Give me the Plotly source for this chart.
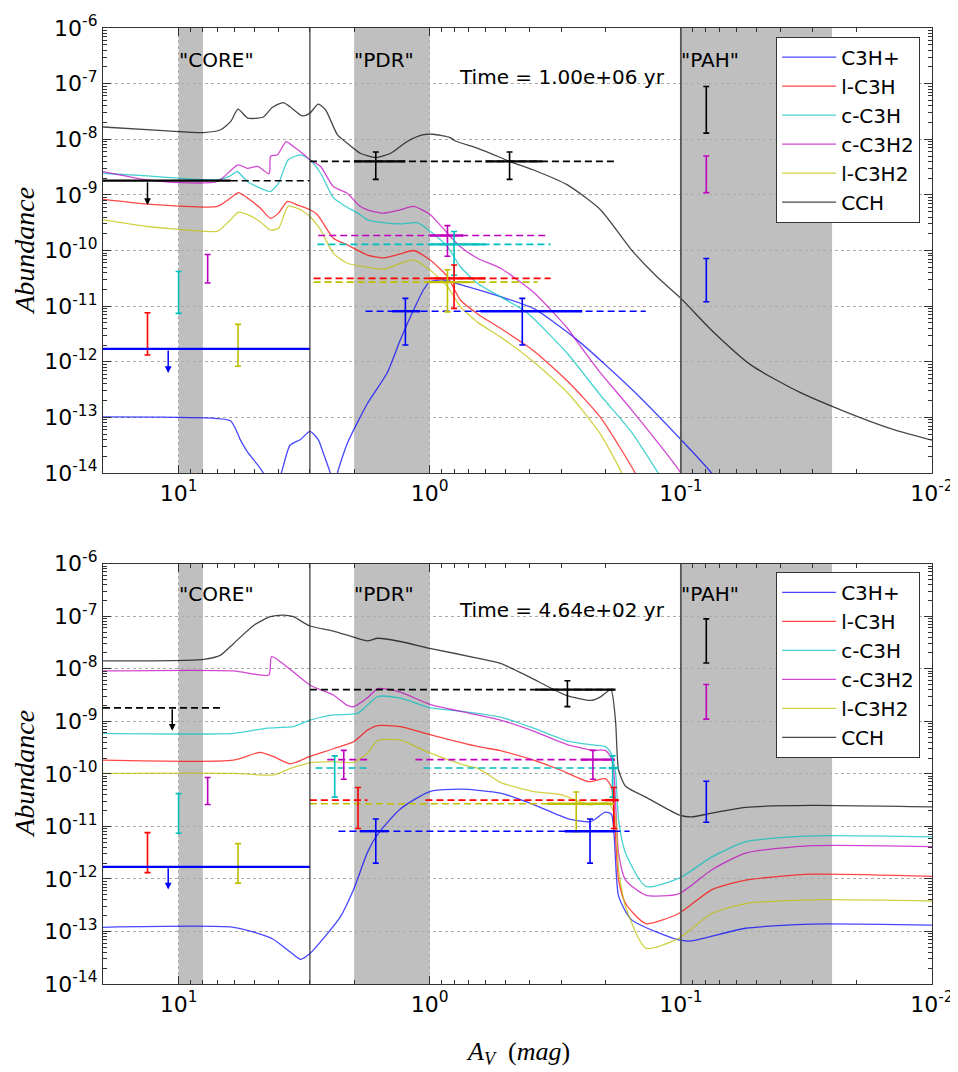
import numpy as np
import plotly.graph_objects as go

# ------------------------------------------------------------------
# Model abundances, upper panel (Time = 1.00e+06 yr)
# ------------------------------------------------------------------
t1_C3Hp_av = [20, 10, 6.22, 5.67, 5.32, 4.6, 4.3, 3.9, 3.6, 3.27, 3.0, 2.78, 2.65, 2.49, 2.4, 2.33,
              2.13, 1.77, 1.48, 1.31, 1.16, 1.06, 1.0, 0.88, 0.708, 0.523, 0.386, 0.258, 0.158, 0.1,
              0.0755, 0.07]
t1_C3Hp = [1.02e-13, 1.0e-13, 8.7e-14, 3.9e-14, 2.4e-14, 1.0e-14, 3.2e-15, 1.0e-14, 3.16e-14, 4.0e-14,
           5.6e-14, 4.0e-14, 2.24e-14, 1.0e-14, 4.0e-15, 1.0e-14, 3.4e-14, 1.78e-13, 6.2e-13, 2.45e-12,
           8.5e-12, 1.95e-11, 2.75e-11, 2.95e-11, 2.24e-11, 1.48e-11, 9.1e-12, 2.45e-12, 3.3e-13, 4.0e-14,
           1.0e-14, 6.3e-15]

t1_lC3H_av = [20, 13.3, 10, 7.0, 6.22, 5.78, 5.3, 4.73, 4.31, 4.0, 3.69, 3.37, 3.0, 2.8, 2.42, 2.13,
              1.77, 1.53, 1.31, 1.16, 1.0, 0.85, 0.755, 0.64, 0.523, 0.386, 0.283, 0.209, 0.152, 0.145]
t1_lC3H = [8.3e-10, 6.8e-10, 6.3e-10, 6.2e-10, 8.7e-10, 1.1e-9, 8.7e-10, 5.8e-10, 3.8e-10, 4.7e-10,
           7.6e-10, 6.6e-10, 5.4e-10, 4.4e-10, 1.66e-10, 1.26e-10, 8.3e-11, 7.4e-11, 8.7e-11, 1.0e-10,
           6.8e-11, 3.4e-11, 1.29e-11, 7.1e-12, 4.0e-12, 1.58e-12, 4.5e-13, 1.0e-13, 1.0e-14, 6.3e-15]

t1_cC3H_av = [20, 13.3, 10, 7.0, 6.22, 5.85, 5.32, 4.73, 4.31, 4.0, 3.66, 3.27, 3.0, 2.72, 2.42, 2.21,
              1.89, 1.77, 1.53, 1.31, 1.12, 1.0, 0.85, 0.755, 0.64, 0.523, 0.424, 0.386, 0.283, 0.209,
              0.158, 0.123, 0.115]
t1_cC3H = [2.45e-9, 2.19e-9, 2.0e-9, 1.86e-9, 2.19e-9, 2.63e-9, 1.74e-9, 1.32e-9, 1.15e-9, 1.62e-9,
           4.27e-9, 5.25e-9, 4.27e-9, 2.45e-9, 8.9e-10, 6.6e-10, 4.4e-10, 3.55e-10, 3.16e-10, 3.0e-10,
           3.16e-10, 2.24e-10, 1.17e-10, 5.1e-11, 2.5e-11, 1.48e-11, 8.5e-12, 6.0e-12, 1.41e-12, 2.5e-13,
           5.6e-14, 1.0e-14, 6.3e-15]

t1_cC3H2_av = [20, 13.3, 10, 7.0, 5.8, 5.32, 4.85, 4.36, 4.30, 4.04, 3.73, 3.49, 3.16, 3.0, 2.72, 2.42,
               2.13, 1.9, 1.77, 1.53, 1.31, 1.16, 1.0, 0.85, 0.755, 0.64, 0.523, 0.386, 0.283, 0.256,
               0.209, 0.158, 0.1, 0.095]
t1_cC3H2 = [2.63e-9, 1.86e-9, 1.66e-9, 1.74e-9, 3.47e-9, 3.0e-9, 3.24e-9, 2.4e-9, 5.0e-9, 5.25e-9,
            9.1e-9, 7.4e-9, 5.25e-9, 4.27e-9, 3.24e-9, 1.41e-9, 1.07e-9, 6.3e-10, 5.4e-10, 4.7e-10,
            5.4e-10, 6.2e-10, 4.5e-10, 2.04e-10, 1.17e-10, 7.1e-11, 4.8e-11, 1.78e-11, 4.0e-12, 2.14e-12,
            6.3e-13, 1.41e-13, 1.0e-14, 6.3e-15]

t1_lC3H2_av = [20, 13.3, 10, 7.0, 6.22, 5.78, 5.3, 4.73, 4.31, 4.0, 3.66, 3.27, 3.0, 2.72, 2.42, 2.13,
               1.77, 1.53, 1.31, 1.16, 1.0, 0.85, 0.755, 0.64, 0.523, 0.386, 0.283, 0.209, 0.172, 0.165]
t1_lC3H2 = [3.55e-10, 2.7e-10, 2.4e-10, 2.24e-10, 3.55e-10, 4.9e-10, 4.4e-10, 3.3e-10, 2.34e-10, 2.5e-10,
            6.2e-10, 5.4e-10, 4.1e-10, 2.34e-10, 8.9e-11, 5.9e-11, 5.0e-11, 4.6e-11, 5.9e-11, 6.8e-11,
            4.5e-11, 2.24e-11, 9.8e-12, 5.0e-12, 2.8e-12, 1.0e-12, 2.8e-13, 5.0e-14, 1.0e-14, 6.3e-15]

t1_CCH_av = [20, 11.1, 7.94, 6.8, 6.2, 5.8, 5.3, 4.6, 4.24, 3.83, 3.59, 3.21, 3.0, 2.78, 2.6, 2.33,
             2.13, 1.89, 1.64, 1.43, 1.23, 1.07, 0.97, 0.83, 0.79, 0.64, 0.523, 0.481, 0.386, 0.283,
             0.209, 0.158, 0.126, 0.1, 0.0755, 0.0525, 0.034, 0.0221, 0.014, 0.01]
t1_CCH = [1.66e-8, 1.41e-8, 1.32e-8, 1.48e-8, 2.09e-8, 3.47e-8, 2.4e-8, 2.51e-8, 3.72e-8, 4.57e-8,
          3.8e-8, 2.63e-8, 2.95e-8, 4.27e-8, 3.39e-8, 1.2e-8, 8.5e-9, 5.6e-9, 4.7e-9, 5.6e-9,
          9.1e-9, 1.2e-8, 1.23e-8, 1.07e-8, 9.3e-9, 6.8e-9, 4.7e-9, 4.0e-9, 2.8e-9, 1.51e-9,
          5.4e-10, 1.05e-10, 3.55e-11, 1.38e-11, 3.7e-12, 8.7e-13, 2.9e-13, 1.26e-13, 5.9e-14, 3.9e-14]

# ------------------------------------------------------------------
# Model abundances, lower panel (Time = 4.64e+02 yr)
# ------------------------------------------------------------------
t2_C3Hp_av = [20, 6.05, 4.6, 4.2, 3.69, 3.27, 3.0, 2.65, 2.27, 2.01, 1.77, 1.61, 1.31, 1.0, 0.755,
              0.523, 0.386, 0.283, 0.229, 0.2, 0.189, 0.177, 0.157, 0.102, 0.0906, 0.0552, 0.0301, 0.01]
t2_C3Hp = [1.2e-13, 1.2e-13, 8.5e-14, 7.1e-14, 4.5e-14, 2.95e-14, 3.8e-14, 7.4e-14, 1.9e-13, 6.3e-13,
           3.2e-12, 7.1e-12, 2.14e-11, 4.6e-11, 5.1e-11, 4.3e-11, 2.6e-11, 1.41e-11, 1.23e-11, 1.86e-11,
           1.7e-11, 4.7e-13, 1.66e-13, 6.9e-14, 6.6e-14, 1.15e-13, 1.38e-13, 1.32e-13]

t2_lC3H_av = [20, 6.05, 4.73, 4.2, 3.6, 3.0, 2.42, 2.01, 1.77, 1.61, 1.31, 1.0, 0.64, 0.523, 0.386,
              0.3, 0.233, 0.2, 0.189, 0.177, 0.166, 0.138, 0.102, 0.0755, 0.0552, 0.0301, 0.01]
t2_lC3H = [1.82e-10, 1.82e-10, 2.57e-10, 2.14e-10, 1.55e-10, 2.14e-10, 3.0e-10, 4.1e-10, 6.8e-10,
           8.3e-10, 7.9e-10, 5.6e-10, 3.3e-10, 2.75e-10, 1.82e-10, 1.17e-10, 7.1e-11, 8.1e-11, 5.6e-11,
           9.5e-13, 3.4e-13, 1.41e-13, 2.2e-13, 6.2e-13, 9.5e-13, 1.23e-12, 1.12e-12]

t2_cC3H_av = [20, 6.05, 4.44, 3.49, 3.0, 2.42, 1.94, 1.61, 1.31, 1.0, 0.708, 0.523, 0.386, 0.283,
              0.223, 0.2, 0.19, 0.182, 0.177, 0.166, 0.138, 0.102, 0.0755, 0.0552, 0.0301, 0.01]
t2_cC3H = [5.9e-10, 5.9e-10, 7.4e-10, 7.9e-10, 1.05e-9, 1.32e-9, 1.41e-9, 2.95e-9, 2.75e-9, 1.82e-9,
           1.5e-9, 1.2e-9, 7.4e-10, 4.2e-10, 3.55e-10, 3.3e-10, 2.5e-10, 1.05e-10, 1.32e-11, 3.1e-12,
           7.2e-13, 1.02e-12, 2.6e-12, 5.1e-12, 6.6e-12, 6.3e-12]

t2_cC3H2_av = [20, 6.05, 4.37, 4.26, 3.0, 2.42, 2.13, 2.01, 1.77, 1.61, 1.31, 1.0, 0.708, 0.523, 0.386,
               0.283, 0.223, 0.2, 0.19, 0.185, 0.177, 0.166, 0.138, 0.102, 0.0755, 0.0552, 0.0301, 0.01]
t2_cC3H2 = [9.1e-9, 9.1e-9, 7.6e-9, 1.7e-8, 4.9e-9, 3.16e-9, 2.0e-9, 1.9e-9, 2.8e-9, 4.2e-9, 3.6e-9,
            2.1e-9, 1.45e-9, 1.05e-9, 6.5e-10, 3.6e-10, 2.8e-10, 2.8e-10, 2.1e-10, 1.12e-10, 3.1e-12,
            9.5e-13, 4.9e-13, 5.2e-13, 1.48e-12, 3.1e-12, 4.3e-12, 4.1e-12]

t2_lC3H2_av = [20, 6.05, 4.2, 3.6, 3.0, 2.42, 2.01, 1.77, 1.61, 1.31, 1.0, 0.708, 0.64, 0.523, 0.386,
               0.3, 0.233, 0.194, 0.182, 0.177, 0.166, 0.138, 0.102, 0.0755, 0.0552, 0.0301, 0.01]
t2_lC3H2 = [1.02e-10, 1.02e-10, 9.5e-11, 1.26e-10, 1.62e-10, 1.7e-10, 1.66e-10, 2.45e-10, 4.3e-10,
            4.4e-10, 2.5e-10, 1.41e-10, 1.26e-10, 6.9e-11, 4.6e-11, 4.0e-11, 2.57e-11, 2.75e-11,
            1.51e-11, 1.48e-12, 2.95e-13, 4.8e-14, 7.4e-14, 2.2e-13, 3.4e-13, 4.0e-13, 3.8e-13]

t2_CCH_av = [20, 7.94, 6.8, 6.05, 5.0, 4.31, 3.83, 3.49, 3.0, 2.42, 2.01, 1.77, 1.61, 1.31, 1.0, 0.64,
             0.523, 0.404, 0.288, 0.227, 0.208, 0.19, 0.182, 0.177, 0.166, 0.138, 0.102, 0.0906,
             0.0755, 0.0552, 0.0301, 0.01]
t2_CCH = [1.41e-8, 1.51e-8, 1.82e-8, 3.0e-8, 6.8e-8, 9.8e-8, 1.05e-7, 9.8e-8, 6.5e-8, 5.2e-8, 4.0e-8,
          3.4e-8, 3.8e-8, 3.3e-8, 2.45e-8, 1.58e-8, 1.26e-8, 7.1e-9, 3.16e-9, 2.5e-9, 2.95e-9, 4.0e-9,
          1.0e-9, 1.17e-10, 5.8e-11, 3.6e-11, 1.66e-11, 1.51e-11, 1.78e-11, 2.3e-11, 2.5e-11, 2.34e-11]

# ------------------------------------------------------------------
# Observations
# ------------------------------------------------------------------
species = ["C3H+", "l-C3H", "c-C3H", "c-C3H2", "l-C3H2", "CCH"]

# "CORE" vertical error bars (both panels)
core_bar_species = ["l-C3H", "c-C3H", "c-C3H2", "l-C3H2"]
core_bar_av = [13.3, 10.0, 7.66, 5.8]
core_bar_lo = [1.32e-12, 7.4e-12, 2.6e-11, 8.3e-13]
core_bar_hi = [7.6e-12, 4.2e-11, 8.5e-11, 4.7e-12]

# "PAH" vertical error bars (both panels)
pah_bar_species = ["CCH", "c-C3H2", "C3H+"]
pah_bar_av = [0.0792, 0.0792, 0.0792]
pah_bar_lo = [1.29e-8, 1.1e-9, 1.2e-11]
pah_bar_hi = [8.9e-8, 5.0e-9, 7.2e-11]

# "CORE" upper limits
ul_species = ["CCH", "C3H+"]
ul_level = [1.8e-9, 1.7e-12]
ul_tip = [6.6e-10, 6.3e-13]
t1_ul_arrow_av = [13.3, 11.0]
t2_ul_arrow_av = [10.6, 11.0]
t1_ul_solid = [("CCH", 20, 6.2), ("C3H+", 20, 3.0)]
t1_ul_dashed = [("CCH", 6.2, 3.0)]
t2_ul_solid = [("C3H+", 20, 3.0)]
t2_ul_dashed = [("CCH", 20, 6.8)]

# "PDR" detections
pdr_species = ["CCH", "c-C3H2", "c-C3H", "l-C3H", "l-C3H2", "C3H+"]
pdr_level = [4.0e-9, 1.86e-10, 1.29e-10, 3.16e-11, 2.7e-11, 8.1e-12]
pdr_lo = [1.9e-9, 7.9e-11, 3.6e-11, 9.1e-12, 7.9e-12, 2.0e-12]
pdr_hi = [5.9e-9, 2.8e-10, 2.2e-10, 5.5e-11, 4.5e-11, 1.38e-11]

t1_pdr_dash = {"CCH": [(3.0, 0.18)], "c-C3H2": [(2.78, 0.346)], "c-C3H": [(2.8, 0.33)],
               "l-C3H": [(2.9, 0.33)], "l-C3H2": [(2.9, 0.372)], "C3H+": [(1.8, 0.138)]}
t1_pdr_cross = [("CCH", 1.64, 2.0, 1.25), ("CCH", 0.481, 0.6, 0.356),
                ("c-C3H2", 0.85, 1.0, 0.735), ("c-C3H", 0.8, 1.0, 0.6),
                ("l-C3H", 0.8, 1.0, 0.6), ("l-C3H2", 0.85, 1.02, 0.70),
                ("C3H+", 1.25, 1.41, 1.09), ("C3H+", 0.428, 0.628, 0.247)]

t2_pdr_dash = {"CCH": [(3.0, 0.183)], "c-C3H2": [(2.56, 1.77), (1.14, 0.183)],
               "c-C3H": [(2.85, 1.77), (1.06, 0.177)], "l-C3H": [(3.0, 1.77), (1.04, 0.177)],
               "l-C3H2": [(3.0, 0.185)], "C3H+": [(2.31, 0.16)]}
t2_pdr_cross = [("CCH", 0.283, 0.38, 0.182), ("c-C3H2", 2.2, None, None),
                ("c-C3H2", 0.224, 0.25, 0.183), ("c-C3H", 2.39, None, None),
                ("c-C3H", 0.187, 0.194, 0.177), ("l-C3H", 1.93, None, None),
                ("l-C3H", 0.185, 0.2, 0.177), ("l-C3H2", 0.261, 0.34, 0.185),
                ("C3H+", 1.64, 1.9, 1.46), ("C3H+", 0.23, 0.29, 0.183)]

# regions and labels
regions = {"CORE": (10.0, 8.0), "PDR": (2.0, 1.0), "PAH": (0.1, 0.025)}
region_labels = ['"CORE"', '"PDR"', '"PAH"']
vlines_av = [3.0, 0.1]
label_level = 2.7e-7
time_labels = ["Time = 1.00e+06 yr", "Time = 4.64e+02 yr"]
time_av = 0.78
time_level = 1.32e-7

x_ticks = [10, 1, 0.1, 0.01]
x_ticktext = ["10<sup>1</sup>", "10<sup>0</sup>", "10<sup>-1</sup>", "10<sup>-2</sup>"]
y_ticks = [1e-14, 1e-13, 1e-12, 1e-11, 1e-10, 1e-9, 1e-8, 1e-7, 1e-6]
y_ticktext = ["10<sup>%d</sup>" % e for e in range(-14, -5)]

# ------------------------------------------------------------------
model_rgba = {"C3H+": "rgba(0,0,255,0.72)", "l-C3H": "rgba(255,0,0,0.72)",
              "c-C3H": "rgba(0,191,191,0.72)", "c-C3H2": "rgba(191,0,191,0.72)",
              "l-C3H2": "rgba(191,191,0,0.72)", "CCH": "rgba(0,0,0,0.72)"}
obs_col = {"C3H+": "#0000ff", "l-C3H": "#ff0000", "c-C3H": "#00bfbf",
           "c-C3H2": "#bf00bf", "l-C3H2": "#bfbf00", "CCH": "#000000"}
DASH = "7px,4px"

panels = [
    dict(xa="x", ya="y", legend="legend",
         curves={"C3H+": (t1_C3Hp_av, t1_C3Hp), "l-C3H": (t1_lC3H_av, t1_lC3H),
                 "c-C3H": (t1_cC3H_av, t1_cC3H), "c-C3H2": (t1_cC3H2_av, t1_cC3H2),
                 "l-C3H2": (t1_lC3H2_av, t1_lC3H2), "CCH": (t1_CCH_av, t1_CCH)},
         ul_arrow=t1_ul_arrow_av, ul_solid=t1_ul_solid, ul_dashed=t1_ul_dashed,
         dash=t1_pdr_dash, cross=t1_pdr_cross, time=time_labels[0]),
    dict(xa="x2", ya="y2", legend="legend2",
         curves={"C3H+": (t2_C3Hp_av, t2_C3Hp), "l-C3H": (t2_lC3H_av, t2_lC3H),
                 "c-C3H": (t2_cC3H_av, t2_cC3H), "c-C3H2": (t2_cC3H2_av, t2_cC3H2),
                 "l-C3H2": (t2_lC3H2_av, t2_lC3H2), "CCH": (t2_CCH_av, t2_CCH)},
         ul_arrow=t2_ul_arrow_av, ul_solid=t2_ul_solid, ul_dashed=t2_ul_dashed,
         dash=t2_pdr_dash, cross=t2_pdr_cross, time=time_labels[1]),
]

fig = go.Figure()
shapes = []
annotations = []


def hseg(p, x0, x1, y, color, dash, width):
    fig.add_trace(go.Scatter(x=[x0, x1], y=[y, y], mode="lines", xaxis=p["xa"], yaxis=p["ya"],
                             line=dict(color=color, width=width, dash=dash),
                             showlegend=False, hoverinfo="skip"))


def vbar(p, x, lo, hi, color):
    fig.add_trace(go.Scatter(x=[x], y=[hi], mode="markers", xaxis=p["xa"], yaxis=p["ya"],
                             marker=dict(size=1, color="rgba(0,0,0,0)"),
                             error_y=dict(type="data", symmetric=False, array=[0.0],
                                          arrayminus=[hi - lo], color=color, thickness=1.6, width=3),
                             showlegend=False, hoverinfo="skip"))


for p in panels:
    xa, ya = p["xa"], p["ya"]
    # shaded regions (shape coordinates on these log axes are data values)
    for name, (a, b) in regions.items():
        shapes.append(dict(type="rect", xref=xa, yref=ya + " domain", x0=a, x1=b,
                           y0=0, y1=1, fillcolor="#bfbfbf", line=dict(width=0), layer="below"))
    for v, c, w in zip(vlines_av, ["#333333", "#555555"], [1.2, 1.8]):
        shapes.append(dict(type="line", xref=xa, yref=ya + " domain", x0=v, x1=v,
                           y0=0, y1=1, line=dict(color=c, width=w), layer="above"))
    # labels (annotation coordinates on log axes are log10 values)
    for (name, (a, b)), txt in zip(regions.items(), region_labels):
        annotations.append(dict(x=np.log10(a), y=np.log10(label_level), xref=xa, yref=ya, text=txt,
                                showarrow=False, xanchor="left", yanchor="middle", xshift=-2,
                                font=dict(family="DejaVu Sans", size=20, color="black")))
    annotations.append(dict(x=np.log10(time_av), y=np.log10(time_level), xref=xa, yref=ya,
                            text=p["time"], showarrow=False, xanchor="left", yanchor="middle",
                            font=dict(family="DejaVu Sans", size=20, color="black")))

    # model curves
    for sp in species:
        av, ab = p["curves"][sp]
        fig.add_trace(go.Scatter(x=av, y=ab, mode="lines", name=sp, xaxis=xa, yaxis=ya,
                                 legend=p["legend"],
                                 line=dict(color=model_rgba[sp], width=1.3, shape="spline",
                                           smoothing=0.6)))

    # core bars / pah bars
    for sp, x, lo, hi in zip(core_bar_species, core_bar_av, core_bar_lo, core_bar_hi):
        vbar(p, x, lo, hi, obs_col[sp])
    for sp, x, lo, hi in zip(pah_bar_species, pah_bar_av, pah_bar_lo, pah_bar_hi):
        vbar(p, x, lo, hi, obs_col[sp])

    # upper limits
    lvl = dict(zip(ul_species, ul_level))
    for sp, x0, x1 in p["ul_solid"]:
        hseg(p, x0, x1, lvl[sp], obs_col[sp], "solid", 2.2)
    for sp, x0, x1 in p["ul_dashed"]:
        hseg(p, x0, x1, lvl[sp], obs_col[sp], DASH, 1.6)
    for sp, xa_, lv, tip in zip(ul_species, p["ul_arrow"], ul_level, ul_tip):
        annotations.append(dict(x=np.log10(xa_), y=np.log10(tip), ax=np.log10(xa_), ay=np.log10(lv),
                                xref=xa, yref=ya, axref=xa, ayref=ya, text="",
                                showarrow=True, arrowhead=2, arrowsize=0.9, arrowwidth=1.5,
                                arrowcolor=obs_col[sp]))

    # PDR detections
    plev = dict(zip(pdr_species, pdr_level))
    plo = dict(zip(pdr_species, pdr_lo))
    phi = dict(zip(pdr_species, pdr_hi))
    for sp, segs in p["dash"].items():
        for x0, x1 in segs:
            hseg(p, x0, x1, plev[sp], obs_col[sp], DASH, 1.6)
    for sp, x, s0, s1 in p["cross"]:
        if s0 is not None:
            hseg(p, s0, s1, plev[sp], obs_col[sp], "solid", 2.4)
        vbar(p, x, plo[sp], phi[sp], obs_col[sp])

# axis label annotations
for yc in (0.767, 0.22):
    annotations.append(dict(x=-0.094, y=yc, xref="paper", yref="paper", text="<i>Abundance</i>",
                            textangle=-90, showarrow=False, xanchor="center", yanchor="middle",
                            font=dict(family="Liberation Serif", size=28, color="black")))
annotations.append(dict(x=0.5, y=-0.072, xref="paper", yref="paper",
                        text="<i>A</i><sub><i>V</i></sub>  (<i>mag</i>)",
                        showarrow=False, xanchor="center", yanchor="middle",
                        font=dict(family="Liberation Serif", size=26, color="black")))

minor_x = [m * 10.0 ** k for k in range(-2, 2) for m in range(2, 10) if m * 10.0 ** k < 20]
minor_y = [m * 10.0 ** k for k in range(-14, -6) for m in range(2, 10)]

axis_common = dict(showline=True, linecolor="#333333", linewidth=1.3, mirror="ticks",
                   ticks="inside", ticklen=8, tickwidth=1, tickcolor="#333333",
                   showgrid=True, gridcolor="#ababab", griddash="dot", gridwidth=1,
                   zeroline=False, automargin=False,
                   tickfont=dict(family="DejaVu Sans", size=22, color="black"))

xcfg = dict(type="log", range=[np.log10(20), -2], tickmode="array", tickvals=x_ticks,
            ticktext=x_ticktext,
            minor=dict(tickmode="array", tickvals=minor_x, ticks="inside", ticklen=4,
                       tickcolor="#333333", showgrid=False), **axis_common)
ycfg = dict(type="log", range=[-14, -6], tickmode="array", tickvals=y_ticks, ticktext=y_ticktext,
            minor=dict(tickmode="array", tickvals=minor_y, ticks="inside", ticklen=4,
                       tickcolor="#333333", showgrid=False), **axis_common)

legend_common = dict(bgcolor="white", bordercolor="#333333", borderwidth=1,
                     font=dict(family="DejaVu Sans", size=20, color="black"),
                     xanchor="left", yanchor="top", itemwidth=54, tracegroupgap=0,
                     entrywidth=100, entrywidthmode="pixels",
                     itemclick=False, itemdoubleclick=False)

# the page body adds an 8 px offset, so the figure is 8 px smaller than the window
fig.update_layout(
    width=950, height=1064,
    margin=dict(l=95, r=26, t=20, b=88, autoexpand=False),
    paper_bgcolor="white", plot_bgcolor="white",
    xaxis=dict(domain=[0, 1], anchor="y", **xcfg),
    yaxis=dict(domain=[0.5345, 1], anchor="x", **ycfg),
    xaxis2=dict(domain=[0, 1], anchor="y2", **xcfg),
    yaxis2=dict(domain=[0, 0.4397], anchor="x2", **ycfg),
    legend=dict(x=0.812, y=0.991, **legend_common),
    legend2=dict(x=0.812, y=0.431, **legend_common),
    shapes=shapes, annotations=annotations,
    showlegend=True,
)

fig.write_html("out.html")
